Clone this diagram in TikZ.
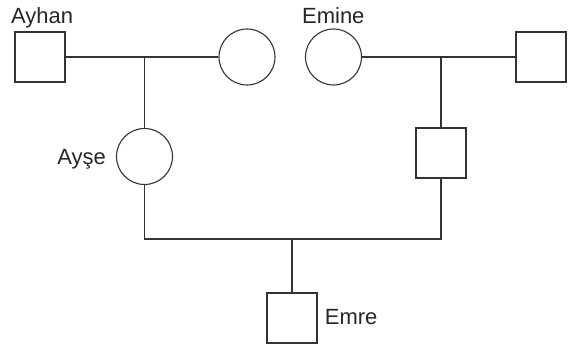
\documentclass[tikz,border=0pt]{standalone}
\usepackage{fontspec}
\setmainfont{Liberation Sans}

\begin{document}
\begin{tikzpicture}[x = 1pt, y = -1pt,
  man/.style = {draw = black!80, line width = 1.1pt, rectangle, minimum size = 50pt, inner sep = 0pt},
  woman/.style = {draw = black!80, line width = 1.1pt, circle, minimum size = 56pt, inner sep = 0pt},
  font = \fontsize{22}{26}\selectfont, text = black!85]
\useasboundingbox (0,0) rectangle (575,344);
\node[man] (ayhan) at (40,57) {};
\node[woman] (wife) at (247,57) {};
\node[woman] (emine) at (333.5,57) {};
\node[man] (husb) at (541,57) {};
\node[woman] (ayse) at (144.5,156.5) {};
\node[man] (son) at (441,153) {};
\node[man] (emre) at (292,318) {};
\coordinate (m1) at (144.5,57);
\coordinate (m2) at (441,57);
\coordinate (m3) at (292,239);
\draw[black!80, line width = 1.1pt] (ayhan) -- (wife);
\draw[black!80, line width = 1.1pt] (emine) -- (husb);
\draw[black!80, line width = 1.1pt] (m1) -- (ayse);
\draw[black!80, line width = 1.1pt] (m2) -- (son);
\draw[black!80, line width = 1.1pt] (ayse) |- (m3) -| (son);
\draw[black!80, line width = 1.1pt] (m3) -- (emre);
\node[anchor = base] (t1) at (42,23.5) {Ayhan};
\node[anchor = base] (t2) at (333.3,24) {Emine};
\node[anchor = base east] (t3) at (109.5,164.5) {Ayşe};
\node[anchor = base west] (t4) at (321.3,324) {Emre};
\end{tikzpicture}
\end{document}
